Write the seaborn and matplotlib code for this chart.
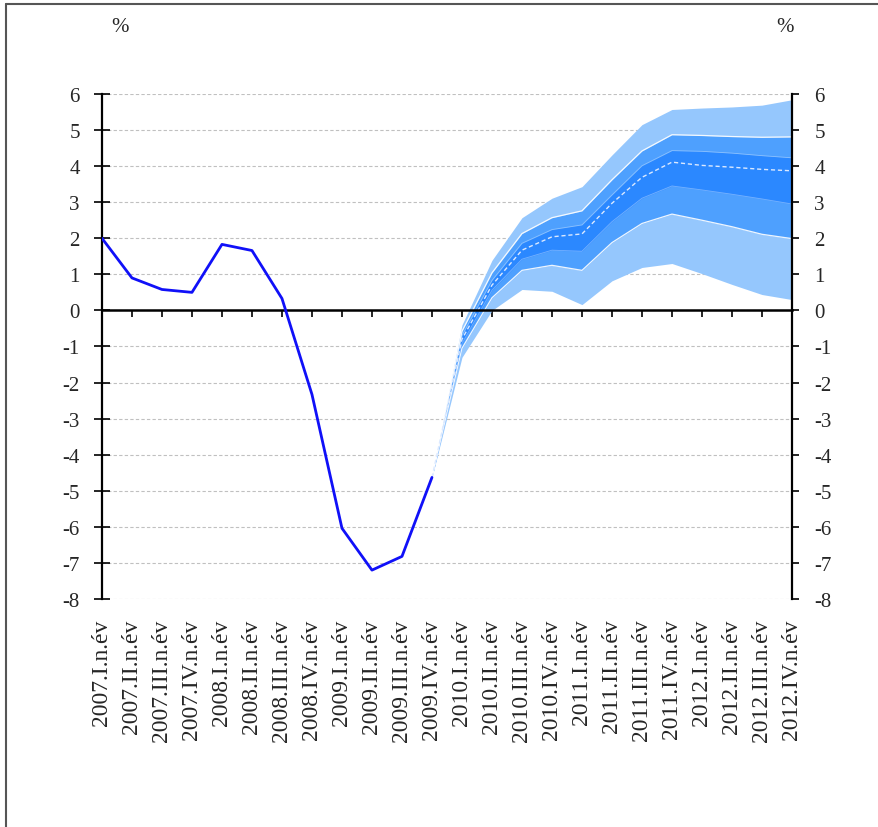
import matplotlib
matplotlib.use("Agg")
import matplotlib.pyplot as plt
from matplotlib.lines import Line2D
import seaborn as sns
import numpy as np
import pandas as pd

# Quarter labels
quarters = [
    "2007.I.n.év", "2007.II.n.év", "2007.III.n.év", "2007.IV.n.év",
    "2008.I.n.év", "2008.II.n.év", "2008.III.n.év", "2008.IV.n.év",
    "2009.I.n.év", "2009.II.n.év", "2009.III.n.év", "2009.IV.n.év",
    "2010.I.n.év", "2010.II.n.év", "2010.III.n.év", "2010.IV.n.év",
    "2011.I.n.év", "2011.II.n.év", "2011.III.n.év", "2011.IV.n.év",
    "2012.I.n.év", "2012.II.n.év", "2012.III.n.év", "2012.IV.n.év",
]

# Observed GDP growth, % (2007.I - 2009.IV)
gdp_actual = [2.0, 0.9, 0.58, 0.5, 1.83, 1.66, 0.33, -2.33, -6.04, -7.2, -6.82, -4.63]

# Fan chart bands (2009.IV - 2012.IV)
outer_hi = [-4.63, -0.40, 1.39, 2.57, 3.11, 3.43, 4.31, 5.15, 5.57, 5.61, 5.64, 5.69, 5.84]
mid_hi   = [-4.63, -0.58, 1.04, 2.13, 2.57, 2.76, 3.62, 4.42, 4.87, 4.85, 4.82, 4.80, 4.81]
inner_hi = [-4.63, -0.70, 0.83, 1.86, 2.24, 2.37, 3.20, 4.01, 4.43, 4.41, 4.36, 4.29, 4.23]
median   = [-4.63, -0.80, 0.70, 1.67, 2.04, 2.12, 2.97, 3.69, 4.11, 4.02, 3.97, 3.91, 3.87]
inner_lo = [-4.63, -0.92, 0.56, 1.42, 1.67, 1.64, 2.46, 3.11, 3.45, 3.34, 3.22, 3.09, 2.95]
mid_lo   = [-4.63, -1.05, 0.35, 1.11, 1.25, 1.11, 1.88, 2.41, 2.67, 2.50, 2.32, 2.11, 1.99]
outer_lo = [-4.63, -1.30, 0.00, 0.58, 0.53, 0.16, 0.82, 1.19, 1.30, 1.02, 0.72, 0.44, 0.30]

yticks = list(range(-8, 7))

sns.set_theme(style="white")
plt.rcParams["font.family"] = ["Liberation Serif", "DejaVu Serif"]
plt.rcParams["axes.unicode_minus"] = False

LIGHT = "#95c7fd"
MID = "#4ea0fe"
DARK = "#2b88ff"
LINE = "#1010f8"

fig = plt.figure(figsize=(8.79, 8.28), dpi=100)
ax = fig.add_axes([0.116, 0.2754, 0.785, 0.6099])

x_all = np.arange(len(quarters))
x_act = x_all[:len(gdp_actual)]
x_fc = x_all[len(gdp_actual) - 1:]

# Fan bands
ax.fill_between(x_fc, outer_lo, outer_hi, color=LIGHT, lw=0, zorder=1)
ax.fill_between(x_fc, mid_lo, mid_hi, color=MID, lw=0, zorder=1.1)
ax.fill_between(x_fc, inner_lo, inner_hi, color=DARK, lw=0, zorder=1.2)
for band, w, a in [(mid_hi, 0.9, 0.9), (mid_lo, 0.9, 0.9), (inner_hi, 0.6, 0.35), (inner_lo, 0.6, 0.35)]:
    ax.plot(x_fc, band, color="white", lw=w, alpha=a, zorder=1.3)
ax.plot(x_fc, median, color="#dbe9ff", lw=1.0, dashes=(3, 2), zorder=1.4)

# Observed series
df = pd.DataFrame({"x": x_act, "gdp": gdp_actual})
sns.lineplot(data=df, x="x", y="gdp", color=LINE, lw=2.0, ax=ax, zorder=3)

ax.set_xlim(0, len(quarters) - 1)
ax.set_ylim(-8, 6)
ax.set_xlabel("")
ax.set_ylabel("")

# Gridlines
ax.set_yticks(yticks)
ax.set_yticklabels([str(t) for t in yticks])
ax.yaxis.grid(True, linestyle=(0, (3, 2)), color="#c0c0c0", lw=0.8)
ax.xaxis.grid(False)
ax.set_axisbelow(True)

# Spines: left & right axes, horizontal axis at zero
ax.spines["top"].set_visible(False)
ax.spines["left"].set_linewidth(1.6)
ax.spines["left"].set_color("black")
ax.spines["right"].set_visible(False)
ax.spines["bottom"].set_position(("data", 0))
ax.spines["bottom"].set_linewidth(1.8)
ax.spines["bottom"].set_color("black")

ax.set_xticks(x_all)
ax.set_xticklabels([""] * len(quarters))
ax.tick_params(axis="x", direction="out", length=5, width=1.2, color="black", bottom=True)
ax.tick_params(axis="y", direction="inout", length=12, width=1.2, color="black",
               labelsize=15, pad=10, left=True)

# Right-hand axis
ax2 = ax.twinx()
ax2.set_ylim(-8, 6)
ax2.set_yticks(yticks)
ax2.set_yticklabels([str(t) for t in yticks])
ax2.tick_params(axis="y", direction="out", length=5, width=1.2, color="black",
                labelsize=15, pad=11, right=True)
for s in ["top", "left", "bottom"]:
    ax2.spines[s].set_visible(False)
ax2.spines["right"].set_linewidth(1.6)
ax2.spines["right"].set_color("black")
ax2.grid(False)

# Category labels along the bottom edge
sec = ax.secondary_xaxis(0.0)
sec.set_xticks(x_all)
sec.set_xticklabels(quarters, rotation=90, fontsize=17)
sec.tick_params(length=0, pad=14)
for s in sec.spines.values():
    s.set_visible(False)

# Unit labels
fig.text(120 / 879, 1 - 28 / 828, "%", ha="center", va="center", fontsize=15)
fig.text(785 / 879, 1 - 28 / 828, "%", ha="center", va="center", fontsize=15)

# Outer frame
fig.add_artist(Line2D([6 / 879, 1], [1 - 4.5 / 828, 1 - 4.5 / 828],
                      transform=fig.transFigure, color="#555555", lw=1.5))
fig.add_artist(Line2D([6 / 879, 6 / 879], [0, 1 - 4.5 / 828],
                      transform=fig.transFigure, color="#555555", lw=1.5))

fig.savefig("out.png", dpi=100)
